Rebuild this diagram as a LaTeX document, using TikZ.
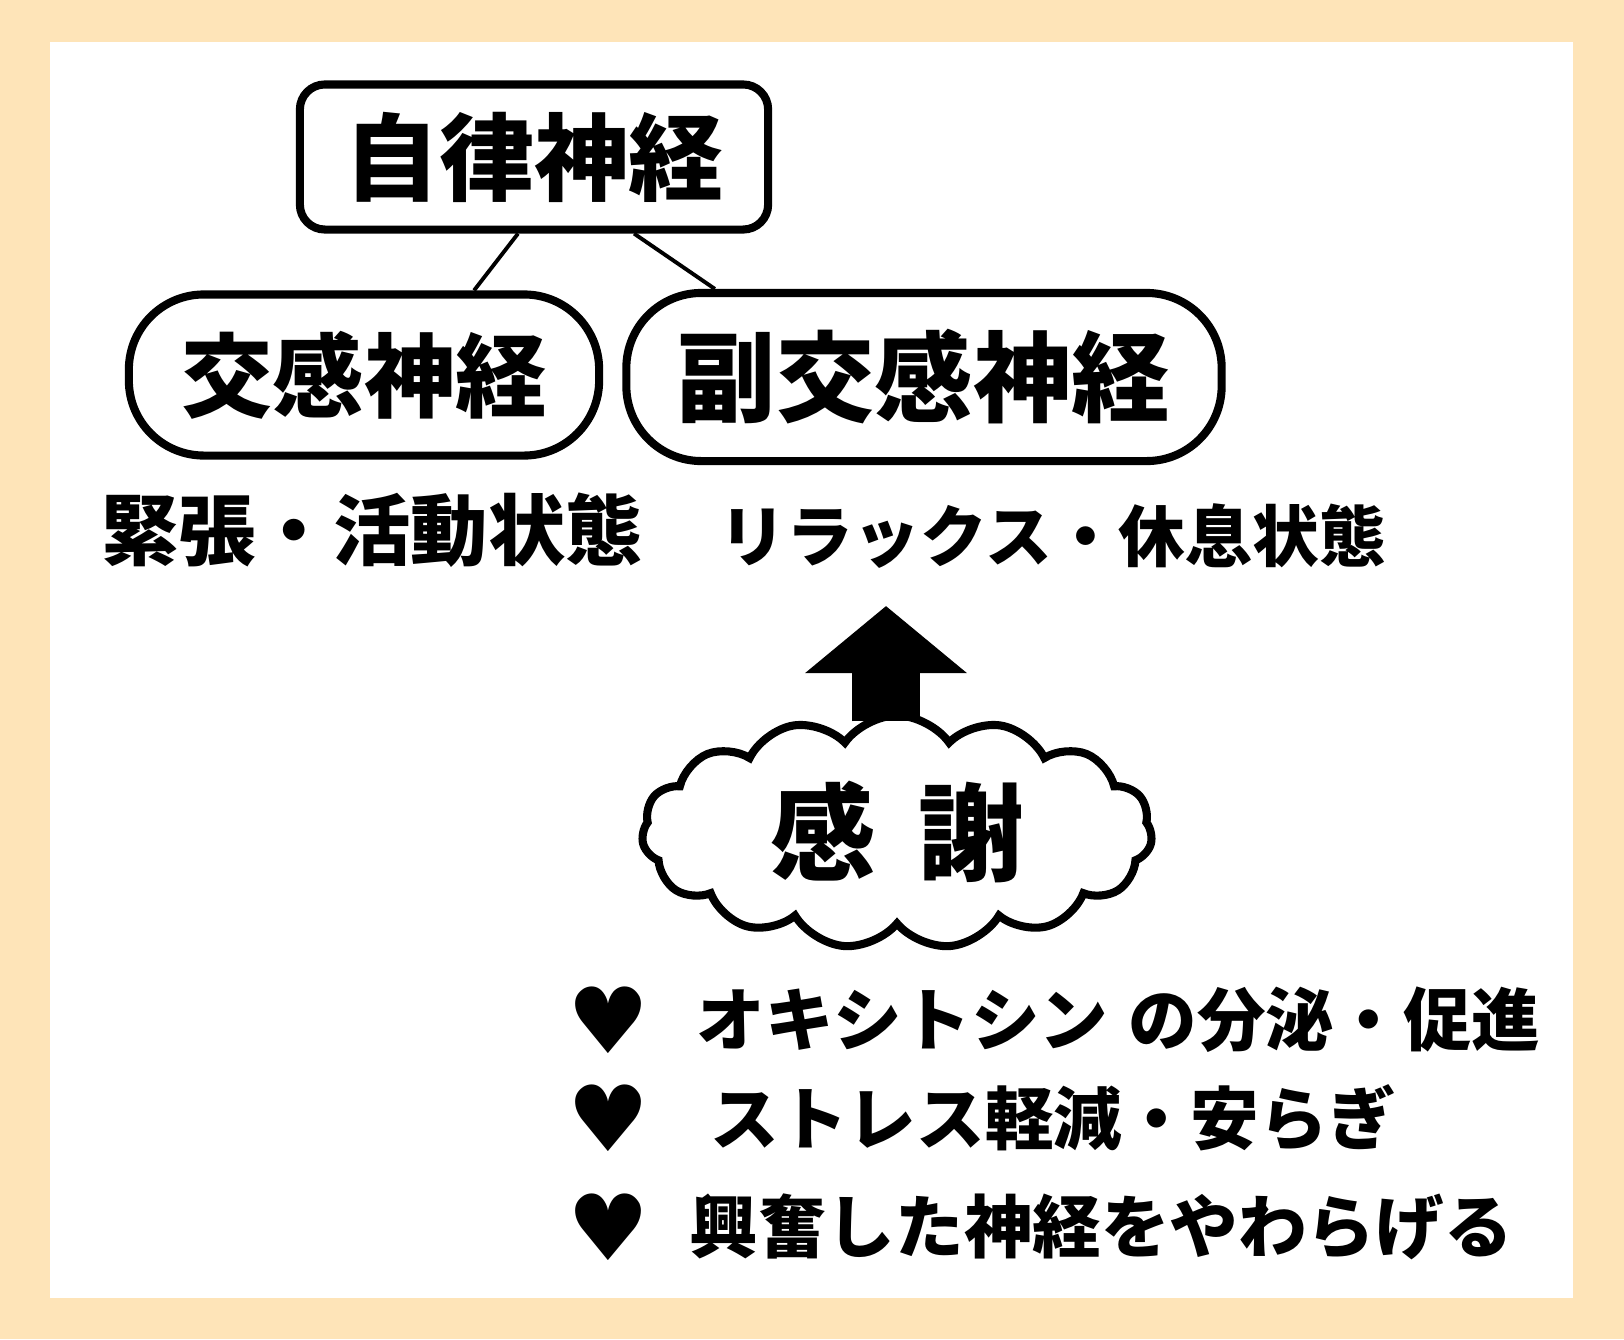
\documentclass[tikz,border=0pt]{standalone}
\usepackage{fontspec}
\newfontfamily\jp{Noto Sans CJK JP}
\newfontfamily\symb{DejaVu Sans}
\usepackage{tikz}
\usetikzlibrary{arrows.meta,shapes.symbols}
\definecolor{paper}{RGB}{254,228,184}

\begin{document}
\begin{tikzpicture}[x=0.01cm, y=-0.01cm,
	box/.style={draw, line width=2.3pt, rounded corners=0.25cm, inner sep=0pt},
	branch/.style={draw, line width=2.3pt, rounded corners=0.75cm, inner sep=0pt},
	link/.style={line width=1.1pt},
	heart/.style={font=\symb\fontsize{26}{26}\selectfont, inner sep=0pt},
	item/.style={anchor=west, inner sep=0pt, font=\jp\bfseries\fontsize{19.5}{22}\selectfont},
	bigarrow/.style={line width=19.6pt, -{Triangle[width=1.58cm, length=0.67cm]}}]
\fill[paper] (0,0) rectangle (1624,1339);
\fill[white] (50,42) rectangle (1573,1298);
\useasboundingbox (0,0) rectangle (1624,1339);

\node (top) [box, minimum width=4.68cm, minimum height=1.45cm, font=\jp\bfseries\fontsize{27}{30}\selectfont] at (534,157) {自律神経};
\node (sym) [branch, minimum width=4.7cm, minimum height=1.61cm, font=\jp\bfseries\fontsize{26}{30}\selectfont] at (364,375) {交感神経};
\node (para) [branch, minimum width=5.95cm, minimum height=1.68cm, font=\jp\bfseries\fontsize{28}{30}\selectfont] at (924,377) {副交感神経};
\draw[link] ([xshift=-0.16cm]top.south) -- ([xshift=1.1cm]sym.north);
\draw[link] ([xshift=1cm]top.south) -- ([xshift=-2.09cm]para.north);

\node (tense) [inner sep=0pt, font=\jp\bfseries\fontsize{22}{24}\selectfont] at (372,530) {緊張・活動状態};
\node (relax) [inner sep=0pt, font=\jp\bfseries\fontsize{19}{24}\selectfont] at (1053,536) {リラックス・休息状態};

\node (thanks) [cloud, draw, fill=white, line width=2.3pt, cloud puffs=15, cloud puff arc=110, aspect=2.2, minimum width=5.1cm, minimum height=2.33cm, inner sep=0pt, font=\jp\bfseries\fontsize{30}{32}\selectfont] at (897,832) {感\hspace{0.4em}謝};
\coordinate (tip) at (886,606);
\draw[bigarrow] ([yshift=-0.1cm]thanks.north -| tip) -- (tip);

\node (h1) [heart] at (608,1020) {♥};
\node (h2) [heart] at (608,1118) {♥};
\node (h3) [heart] at (608,1227) {♥};
\node (b1) [item] at (696,1020) {オキシトシン\hspace{0.3em}の分泌・促進};
\node (b2) [item] at (710,1118) {ストレス軽減・安らぎ};
\node (b3) [item] at (689,1227) {興奮した神経をやわらげる};
\end{tikzpicture}
\end{document}
